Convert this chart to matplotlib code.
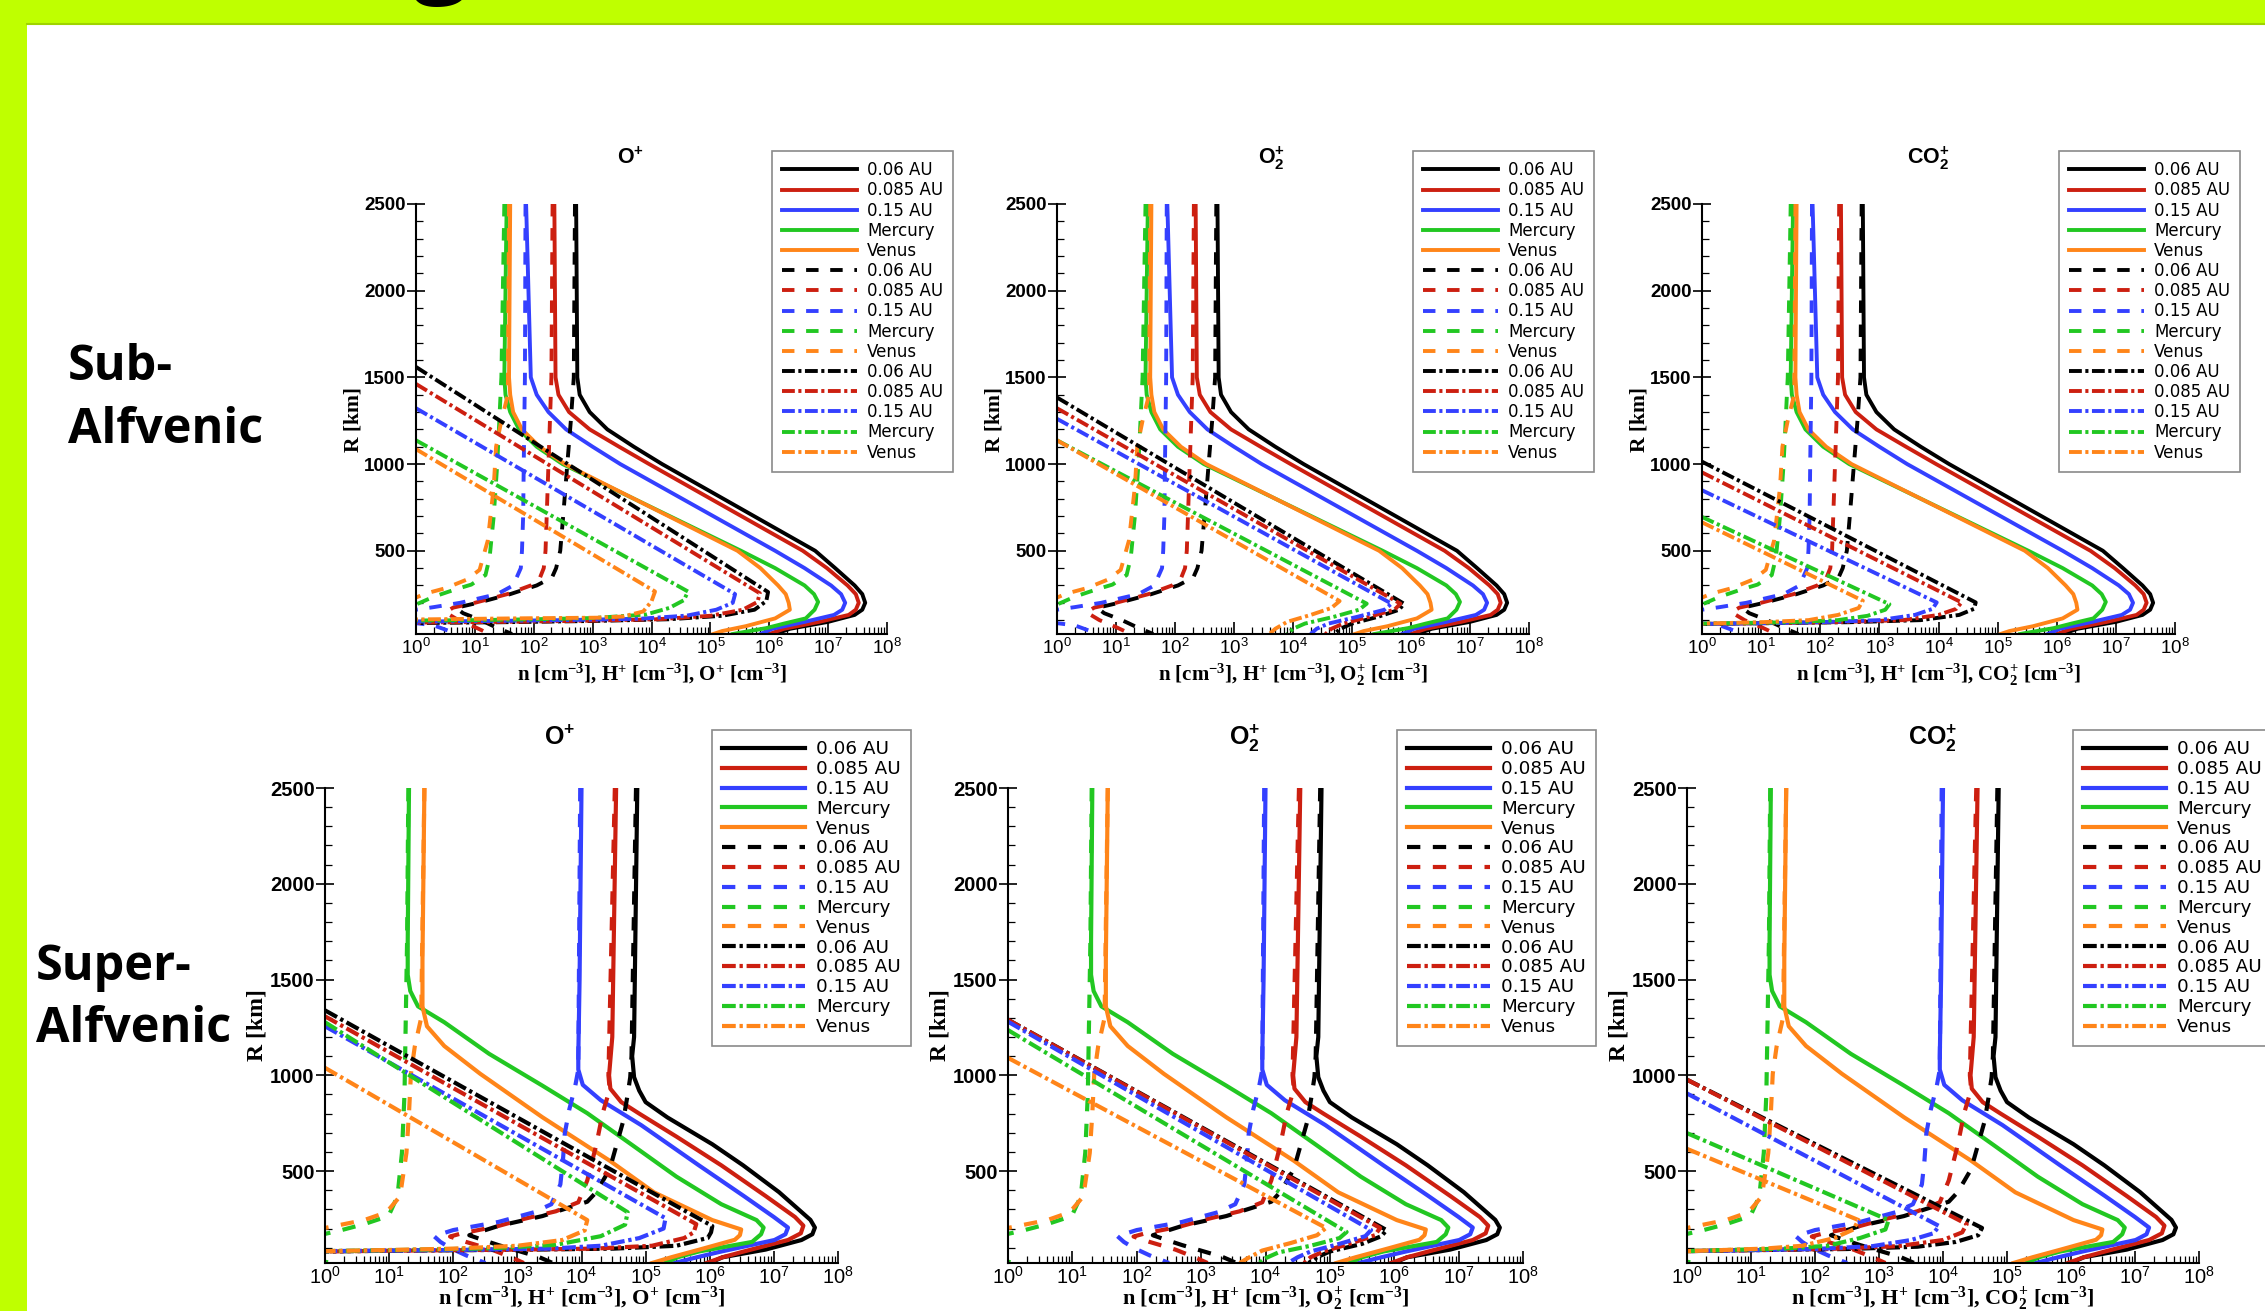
import numpy as np
import matplotlib
matplotlib.use('Agg')
import matplotlib.pyplot as plt
from matplotlib.patches import Rectangle
from matplotlib.lines import Line2D
from matplotlib.ticker import LogLocator, MultipleLocator, FixedLocator

plt.rcParams['font.family'] = ['Liberation Sans', 'DejaVu Sans']
plt.rcParams['mathtext.fontset'] = 'custom'
plt.rcParams['mathtext.default'] = 'regular'

W, H = 2265, 1311

# ---------------- data ----------------
SOURCES = ['0.06 AU', '0.085 AU', '0.15 AU', 'Mercury', 'Venus']
COLORS = ['#000000', '#cc1f10', '#3440ff', '#22c722', '#ff8519']
SPECIES = [r'O$^{+}$', r'O$_{2}^{+}$', r'CO$_{2}^{+}$']
XLABELS = [r'n [cm$^{-3}$], H$^{+}$ [cm$^{-3}$], O$^{+}$ [cm$^{-3}$]',
           r'n [cm$^{-3}$], H$^{+}$ [cm$^{-3}$], O$_{2}^{+}$ [cm$^{-3}$]',
           r'n [cm$^{-3}$], H$^{+}$ [cm$^{-3}$], CO$_{2}^{+}$ [cm$^{-3}$]']
ROW_LABELS = [('Sub-', 'Alfvenic'), ('Super-', 'Alfvenic')]
YTICKS = [500, 1000, 1500, 2000, 2500]

# each curve: list of (R [km], log10 n)
# Sub-Alfvenic: total density n (solid), same in the three panels
SUB_SOLID = [
    [(2500, 2.72), (1500, 2.74), (1400, 2.78), (1300, 2.95), (1200, 3.25), (1100, 3.7), (1000, 4.18),
     (500, 6.78), (400, 7.12), (300, 7.45), (250, 7.58), (200, 7.63), (160, 7.58), (130, 7.45),
     (90, 7.0), (50, 6.35), (20, 6.1)],
    [(2500, 2.35), (1500, 2.37), (1400, 2.42), (1300, 2.6), (1200, 2.95), (1100, 3.45), (1000, 3.96),
     (500, 6.57), (400, 6.98), (300, 7.33), (250, 7.47), (200, 7.52), (160, 7.47), (130, 7.35),
     (90, 6.85), (50, 6.25), (20, 6.0)],
    [(2500, 1.87), (1500, 1.95), (1400, 2.05), (1300, 2.25), (1200, 2.55), (1100, 3.0), (1000, 3.47),
     (500, 6.1), (400, 6.6), (300, 7.05), (250, 7.22), (200, 7.29), (160, 7.24), (130, 7.1),
     (90, 6.6), (50, 6.05), (20, 5.85)],
    [(2500, 1.54), (1500, 1.5), (1400, 1.52), (1300, 1.6), (1200, 1.75), (1100, 2.05), (1000, 2.49),
     (500, 5.52), (400, 6.1), (300, 6.6), (250, 6.76), (205, 6.83), (160, 6.77), (110, 6.62),
     (80, 6.25), (54, 5.95), (20, 5.38)],
    [(2500, 1.6), (1500, 1.58), (1400, 1.6), (1300, 1.65), (1200, 1.8), (1100, 2.1), (1000, 2.53),
     (500, 5.46), (400, 5.85), (300, 6.15), (250, 6.28), (200, 6.33), (160, 6.35), (110, 6.1),
     (65, 5.6), (37, 5.2), (20, 5.05)],
]
# Sub-Alfvenic: H+ (dashed)
SUB_HPLUS = [
    [(2500, 2.70), (1500, 2.68), (1250, 2.63), (1000, 2.57), (700, 2.5), (500, 2.45), (400, 2.38),
     (346, 2.31), (300, 2.05), (250, 1.6), (200, 1.05), (171, 0.68), (140, 0.8), (100, 1.1),
     (60, 1.35), (20, 1.63)],
    [(2500, 2.32), (1500, 2.3), (1200, 2.27), (1000, 2.25), (700, 2.22), (500, 2.2), (400, 2.17),
     (340, 2.1), (300, 1.95), (250, 1.55), (200, 1.0), (172, 0.63), (145, 0.5), (100, 0.72),
     (60, 1.0), (20, 1.25)],
    [(2500, 1.86), (1500, 1.85), (1000, 1.83), (700, 1.82), (500, 1.8), (400, 1.78), (300, 1.65),
     (250, 1.38), (200, 0.75), (175, 0.3), (160, 0.0), (130, -0.4), (95, -0.3), (70, 0.3), (20, 0.7)],
    [(2500, 1.5), (1500, 1.45), (1000, 1.38), (700, 1.32), (460, 1.25), (360, 1.18), (305, 0.94),
     (275, 0.65), (235, 0.3), (190, 0.0), (150, -0.5), (60, -0.5), (40, -0.1), (20, 0.1)],
    [(2500, 1.58), (1400, 1.56), (1250, 1.45), (1100, 1.36), (870, 1.32), (560, 1.22), (390, 1.08),
     (335, 0.87), (285, 0.51), (253, 0.16), (230, 0.0), (200, -0.5), (60, -0.5), (40, -0.2), (20, -0.05)],
]
# Sub-Alfvenic: ion of each panel (dash-dot)
SUB_OP = [
    [(1560, 0.0), (262, 5.98), (210, 5.95), (160, 5.75), (125, 5.2), (105, 4.3), (95, 3.0), (88, 1.5), (83, 0.0), (78, -1)],
    [(1462, 0.0), (255, 5.84), (205, 5.8), (160, 5.55), (125, 5.0), (105, 4.1), (96, 2.8), (90, 1.5), (86, 0.0), (80, -1)],
    [(1322, 0.0), (250, 5.42), (200, 5.38), (160, 5.1), (126, 4.6), (108, 3.8), (100, 2.5), (95, 1.2), (92, 0.0), (85, -1)],
    [(1137, 0.0), (265, 4.62), (215, 4.55), (170, 4.3), (132, 3.9), (112, 3.0), (105, 2.0), (100, 1.0), (98, 0.0), (90, -1)],
    [(1086, 0.0), (265, 4.06), (208, 4.0), (150, 3.86), (121, 3.52), (114, 3.07), (111, 1.94), (104, 0.0), (95, -1)],
]
SUB_O2P = [
    [(1384, 0.0), (195, 5.88), (160, 5.8), (120, 5.45), (80, 5.0), (50, 4.8), (20, 4.7)],
    [(1322, 0.0), (195, 5.82), (160, 5.72), (120, 5.3), (80, 4.85), (50, 4.65), (20, 4.55)],
    [(1261, 0.0), (195, 5.67), (160, 5.55), (120, 5.1), (80, 4.6), (50, 4.4), (20, 4.3)],
    [(1137, 0.0), (195, 5.25), (160, 5.12), (120, 4.7), (80, 4.2), (50, 4.0), (20, 3.9)],
    [(1137, 0.0), (210, 4.79), (170, 4.65), (130, 4.3), (90, 3.9), (50, 3.7), (20, 3.6)],
]
SUB_CO2P = [
    [(1014, 0.0), (202, 4.63), (165, 4.6), (130, 4.35), (100, 3.7), (88, 2.5), (82, 1.0), (78, 0.0), (70, -1)],
    [(952, 0.0), (202, 4.39), (165, 4.3), (130, 4.0), (100, 3.4), (88, 2.2), (82, 1.0), (78, 0.0), (70, -1)],
    [(849, 0.0), (202, 3.97), (165, 3.9), (130, 3.6), (100, 3.0), (88, 2.0), (82, 1.0), (78, 0.0), (70, -1)],
    [(695, 0.0), (192, 3.17), (160, 3.1), (125, 2.8), (100, 2.3), (88, 1.5), (80, 0.0), (70, -1)],
    [(664, 0.0), (212, 2.72), (170, 2.65), (130, 2.3), (100, 1.8), (88, 1.0), (80, 0.0), (70, -1)],
]

# Super-Alfvenic
SUP_SOLID = [
    [(2500, 4.87), (1200, 4.82), (1100, 4.79), (990, 4.82), (920, 4.9), (860, 5.0), (780, 5.34),
     (640, 6.04), (530, 6.52), (390, 7.08), (245, 7.57), (205, 7.64), (170, 7.6), (140, 7.43),
     (90, 6.87), (50, 6.2), (20, 6.0)],
    [(2500, 4.54), (1200, 4.48), (1000, 4.43), (930, 4.45), (860, 4.62), (800, 4.9), (680, 5.48),
     (530, 6.18), (370, 6.87), (260, 7.33), (215, 7.46), (175, 7.42), (140, 7.22), (80, 6.53),
     (50, 6.2), (20, 5.95)],
    [(2500, 4.0), (1500, 3.97), (1100, 3.95), (1030, 3.95), (950, 4.02), (870, 4.3), (740, 4.93),
     (530, 5.83), (370, 6.53), (260, 7.0), (205, 7.22), (170, 7.18), (140, 7.01), (80, 6.18),
     (50, 5.8), (20, 5.45)],
    [(2500, 1.31), (1700, 1.29), (1525, 1.29), (1440, 1.33), (1360, 1.45), (1277, 1.86), (1112, 2.56),
     (946, 3.39), (802, 4.09), (636, 4.79), (471, 5.48), (327, 6.18), (244, 6.73), (205, 6.84),
     (170, 6.8), (130, 6.66), (80, 5.83), (50, 5.5), (20, 5.3)],
    [(2500, 1.55), (1600, 1.52), (1360, 1.52), (1256, 1.59), (1153, 1.86), (1008, 2.42), (781, 3.39),
     (554, 4.44), (389, 5.13), (244, 6.04), (195, 6.49), (165, 6.47), (141, 6.39), (89, 5.83),
     (50, 5.4), (20, 5.1)],
]
SUP_HPLUS = [
    [(2500, 4.85), (1100, 4.78), (990, 4.76), (900, 4.72), (760, 4.65), (510, 4.44), (390, 4.23),
     (340, 4.09), (265, 3.39), (213, 2.7), (165, 2.25), (145, 2.42), (114, 2.7), (52, 3.33), (20, 3.55)],
    [(2500, 4.52), (1000, 4.42), (926, 4.44), (802, 4.33), (636, 4.23), (451, 4.09), (337, 3.95),
     (290, 3.6), (250, 3.1), (213, 2.7), (172, 2.1), (158, 1.95), (130, 2.2), (90, 2.6), (50, 2.9), (20, 3.1)],
    [(2500, 3.98), (1030, 3.95), (940, 3.9), (822, 3.81), (698, 3.74), (553, 3.71), (430, 3.67),
     (327, 3.53), (285, 3.26), (234, 2.7), (192, 2.0), (160, 1.7), (130, 1.8), (99, 1.95), (60, 2.2), (20, 2.5)],
    [(2500, 1.3), (1700, 1.28), (905, 1.24), (595, 1.2), (368, 1.13), (265, 0.99), (223, 0.61),
     (192, 0.26), (172, 0.0), (150, -0.5), (60, -0.5), (40, -0.2), (20, 0.1)],
    [(2500, 1.55), (1300, 1.5), (1150, 1.4), (1008, 1.34), (802, 1.31), (595, 1.27), (368, 1.17),
     (285, 0.96), (244, 0.61), (203, 0.0), (180, -0.5), (60, -0.5), (20, 0.0)],
]
SUP_OP = [
    [(1339, 0.0), (213, 6.04), (180, 6.02), (151, 5.97), (110, 5.48), (95, 4.5), (89, 3.0), (84, 1.0), (80, 0.0), (70, -1)],
    [(1308, 0.0), (223, 5.79), (180, 5.75), (150, 5.6), (110, 5.1), (95, 4.2), (89, 2.8), (84, 1.0), (80, 0.0), (70, -1)],
    [(1256, 0.0), (254, 5.31), (200, 5.28), (150, 4.9), (110, 4.3), (95, 3.5), (88, 2.0), (82, 0.0), (70, -1)],
    [(1277, 0.0), (285, 4.72), (220, 4.68), (160, 4.3), (115, 3.6), (97, 2.6), (88, 1.2), (82, 0.0), (70, -1)],
    [(1039, 0.0), (244, 4.09), (190, 4.05), (140, 3.7), (110, 3.0), (95, 2.0), (88, 1.0), (82, 0.0), (70, -1)],
]
SUP_O2P = [
    [(1290, 0.0), (192, 5.88), (160, 5.8), (120, 5.5), (80, 5.0), (50, 4.8), (20, 4.67)],
    [(1290, 0.0), (203, 5.78), (165, 5.7), (125, 5.35), (80, 4.9), (50, 4.7), (20, 4.6)],
    [(1280, 0.0), (192, 5.64), (160, 5.55), (120, 5.15), (80, 4.7), (50, 4.5), (20, 4.35)],
    [(1236, 0.0), (182, 5.26), (150, 5.15), (110, 4.7), (75, 4.2), (45, 4.0), (20, 3.9)],
    [(1091, 0.0), (203, 4.94), (165, 4.8), (125, 4.4), (85, 3.95), (50, 3.75), (20, 3.6)],
]
SUP_CO2P = [
    [(977, 0.0), (203, 4.61), (165, 4.55), (130, 4.2), (105, 3.6), (93, 2.5), (87, 1.0), (82, 0.0), (70, -1)],
    [(977, 0.0), (223, 4.37), (180, 4.3), (140, 4.0), (108, 3.3), (93, 2.2), (87, 1.0), (82, 0.0), (70, -1)],
    [(905, 0.0), (213, 3.94), (175, 3.85), (140, 3.5), (108, 2.9), (93, 2.0), (87, 1.0), (82, 0.0), (70, -1)],
    [(698, 0.0), (244, 3.15), (195, 3.1), (150, 2.7), (110, 2.2), (95, 1.5), (87, 0.5), (82, 0.0), (70, -1)],
    [(616, 0.0), (244, 2.68), (195, 2.6), (150, 2.3), (110, 1.8), (95, 1.2), (87, 0.5), (82, 0.0), (70, -1)],
]

# ---------------- layout (pixels, top-left origin) ----------------
DASH = (0, (3.2, 3.0))
DASHDOT = (0, (3.3, 0.9, 0.8, 0.9))

ROWS = [
    dict(top=204, bottom=634, lw=2.8, ytick=13.5, xtick=13.5, ylab=15.5, xlab=15, title=15.5,
         leg_fs=12, leg_ls=0.13, leg_bp=0.61, title_y=158, leg_top=151, xpad=3,
         panels=[(416, 887, 772, 631), (1057, 1529, 1413, 1272), (1702, 2175, 2059, 1928)],
         solid=SUB_SOLID, dashed=SUB_HPLUS, ions=[SUB_OP, SUB_O2P, SUB_CO2P],
         xlab_y=-0.065),
    dict(top=788, bottom=1263, lw=3.0, ytick=14.5, xtick=14.5, ylab=17, xlab=16, title=18,
         leg_fs=13.2, leg_ls=0.1, leg_bp=0.56, title_y=738, leg_top=730, xpad=2,
         panels=[(325, 838, 712, 560), (1008, 1523, 1397, 1245), (1687, 2199, 2073, 1933)],
         solid=SUP_SOLID, dashed=SUP_HPLUS, ions=[SUP_OP, SUP_O2P, SUP_CO2P],
         xlab_y=-0.046),
]

fig = plt.figure(figsize=(W / 100, H / 100), dpi=100)
fig.patch.set_facecolor('#bfff00')
fig.patches.append(Rectangle((27 / W, 0), 1 - 27 / W, (H - 24) / H, transform=fig.transFigure,
                             facecolor='white', edgecolor='none', zorder=-5))
fig.lines.append(Line2D([27 / W, 1], [1 - 24 / H, 1 - 24 / H], transform=fig.transFigure,
                        color='#9fd400', lw=1.5, zorder=-4))

# remnants of the slide title (cut by the top edge)
for ch, xp in (('g', 441), ('(', 1149), (')', 1999)):
    fig.text(xp / W, 1 + 17 / H, ch, fontsize=72, fontweight='bold', family='Open Sans',
             ha='center', va='baseline', color='black')

# row labels
for (l1, l2), x0, b1, b2 in ((ROW_LABELS[0], 68, 380, 443), (ROW_LABELS[1], 36, 980, 1042)):
    fig.text(x0 / W, 1 - b1 / H, l1, fontsize=35, fontweight='bold', family='Open Sans',
             ha='left', va='baseline')
    fig.text(x0 / W, 1 - b2 / H, l2, fontsize=35, fontweight='bold', family='Open Sans',
             ha='left', va='baseline')


def curve_xy(pts):
    R = [p[0] for p in pts]
    n = [10.0 ** p[1] for p in pts]
    return n, R


for row in ROWS:
    for k, (x0, x1, legx, titx) in enumerate(row['panels']):
        ax = fig.add_axes([x0 / W, 1 - row['bottom'] / H, (x1 - x0) / W,
                           (row['bottom'] - row['top']) / H])
        ax.set_facecolor('none')
        lw = row['lw']
        handles = []
        for curves, ls in ((row['solid'], '-'), (row['dashed'], DASH), (row['ions'][k], DASHDOT)):
            for pts, c in zip(curves, COLORS):
                n, R = curve_xy(pts)
                ax.plot(n, R, color=c, lw=lw, ls=ls, solid_joinstyle='round',
                        dash_joinstyle='round', clip_on=True)
                handles.append(Line2D([], [], color=c, lw=lw, ls=ls))
        ax.set_xscale('log')
        ax.set_xlim(1, 1e8)
        ax.set_ylim(20, 2500)
        for s in ('top', 'right'):
            ax.spines[s].set_visible(False)
        for s in ('left', 'bottom'):
            ax.spines[s].set_linewidth(1.5)
        ax.xaxis.set_major_locator(LogLocator(base=10, numticks=20))
        ax.xaxis.set_minor_locator(LogLocator(base=10, subs=np.arange(2, 10), numticks=20))
        ax.yaxis.set_major_locator(FixedLocator(YTICKS))
        ax.yaxis.set_minor_locator(MultipleLocator(100))
        ax.tick_params(axis='x', which='major', direction='in', length=9, width=1.2,
                       labelsize=row['xtick'], pad=row['xpad'])
        ax.tick_params(axis='x', which='minor', direction='in', length=5, width=0.9)
        ax.tick_params(axis='y', which='major', direction='inout', length=13, width=1.2,
                       labelsize=row['ytick'], pad=1)
        ax.tick_params(axis='y', which='minor', direction='in', length=5, width=0.9)
        for t in ax.get_yticklabels():
            t.set_fontweight('bold')
        ax.set_ylabel('R [km]', family='Liberation Serif', fontweight='bold', fontsize=row['ylab'])
        ax.yaxis.set_label_coords(-0.112, 0.5)
        ax.set_xlabel(XLABELS[k], family='Liberation Serif', fontweight='bold', fontsize=row['xlab'])
        ax.xaxis.set_label_coords(0.5, row['xlab_y'])
        ax.xaxis.label.set_va('top')

        fig.text(titx / W, 1 - row['title_y'] / H, SPECIES[k], fontsize=row['title'],
                 fontweight='bold', family='Liberation Sans', ha='center', va='center')

        leg = fig.legend(handles=handles, labels=SOURCES * 3, loc='upper left',
                         bbox_to_anchor=(legx / W, 1 - row['leg_top'] / H),
                         bbox_transform=fig.transFigure, borderaxespad=0, frameon=True,
                         fancybox=False, edgecolor='#8a8a8a', framealpha=1,
                         prop=dict(family='DejaVu Sans', size=row['leg_fs']),
                         handlelength=4.5, handletextpad=0.6, labelspacing=row['leg_ls'],
                         borderpad=row['leg_bp'])
        leg.get_frame().set_linewidth(1.2)

fig.savefig('out.png', dpi=100, facecolor=fig.get_facecolor())
